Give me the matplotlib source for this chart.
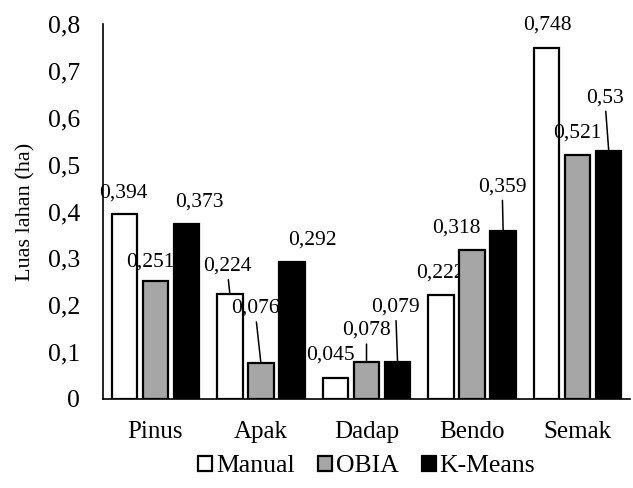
import matplotlib
matplotlib.use("Agg")
import matplotlib.pyplot as plt
import numpy as np

# data
kategori = ["Pinus", "Apak", "Dadap", "Bendo", "Semak"]
manual = [0.394, 0.224, 0.045, 0.222, 0.748]
obia = [0.251, 0.076, 0.078, 0.318, 0.521]
kmeans = [0.373, 0.292, 0.079, 0.359, 0.53]
nama_seri = ["Manual", "OBIA", "K-Means"]

# label offsets in pixels (dx, dy) from bar top, and whether a leader line is drawn
geser = [
    [(-1, 21, False), (-3, 28, True), (-5, 23, False), (-1, 22, False), (1, 23, False)],
    [(-5, 19, False), (-6, 55, True), (0, 32, True), (-16, 22, False), (0, 22, False)],
    [(13, 22, False), (20, 22, False), (-2, 55, True), (-1, 44, True), (-4, 53, True)],
]

plt.rcParams['font.family'] = ['Liberation Serif', 'DejaVu Serif']

fig = plt.figure(figsize=(6.33, 4.88), dpi=100)
ax = fig.add_axes([0.162, 0.1824, 0.834, 0.7684])

x = np.arange(len(kategori))
lebar = 0.24
jarak = 0.294
warna = ["white", "#a6a6a6", "black"]

semua = [manual, obia, kmeans]
for s in range(3):
    pos = x + (s - 1) * jarak
    ax.bar(pos, semua[s], width=lebar, color=warna[s], edgecolor="black",
           linewidth=1.6, label=nama_seri[s], zorder=3)
    for i in range(len(kategori)):
        v = semua[s][i]
        teks = ("%g" % v).replace(".", ",")
        dx, dy, garis = geser[s][i]
        if garis:
            ax.annotate(teks, xy=(pos[i], v), xytext=(dx, dy),
                        textcoords="offset pixels", ha="center", va="center",
                        fontsize=15.5,
                        arrowprops=dict(arrowstyle="-", color="black", lw=1.1,
                                        shrinkA=1, shrinkB=0))
        else:
            ax.annotate(teks, xy=(pos[i], v), xytext=(dx, dy),
                        textcoords="offset pixels", ha="center", va="center",
                        fontsize=15.5)

ax.set_xlim(-0.5, 4.5)
ax.set_ylim(0, 0.8)
ax.set_yticks(np.arange(0, 0.81, 0.1))
ax.set_yticklabels(["0"] + [("%.1f" % t).replace(".", ",") for t in np.arange(0.1, 0.81, 0.1)])
ax.set_xticks(x)
ax.set_xticklabels(kategori)
ax.tick_params(axis="y", length=0, pad=16, labelsize=18.5)
ax.tick_params(axis="x", length=0, pad=16, labelsize=18)
ax.set_ylabel("Luas lahan (ha)", fontsize=16, labelpad=9)

for sisi in ["top", "right"]:
    ax.spines[sisi].set_visible(False)
ax.spines["left"].set_linewidth(1.2)
ax.spines["bottom"].set_linewidth(1.2)

ax.legend(loc="center", bbox_to_anchor=(0.5, -0.18), ncol=3, frameon=False,
          fontsize=18.5, handlelength=0.55, handleheight=0.55, handletextpad=0.15,
          columnspacing=0.9, borderaxespad=0)

fig.savefig("out.png", dpi=100)
